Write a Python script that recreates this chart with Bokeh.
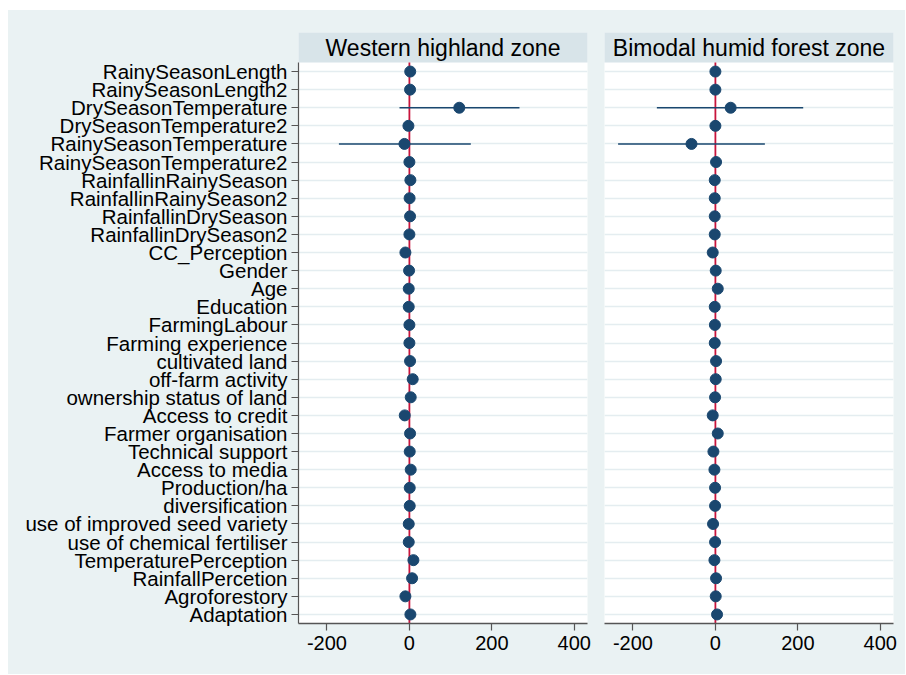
from bokeh.plotting import figure
from bokeh.layouts import row, column
from bokeh.models import Range1d, FixedTicker, Spacer
from bokeh.embed import file_html
from bokeh.resources import INLINE
from bokeh.core.properties import value

labels = [
    "RainySeasonLength", "RainySeasonLength2", "DrySeasonTemperature",
    "DrySeasonTemperature2", "RainySeasonTemperature", "RainySeasonTemperature2",
    "RainfallinRainySeason", "RainfallinRainySeason2", "RainfallinDrySeason",
    "RainfallinDrySeason2", "CC_Perception", "Gender", "Age", "Education",
    "FarmingLabour", "Farming experience", "cultivated land", "off-farm activity",
    "ownership status of land", "Access to credit", "Farmer organisation",
    "Technical support", "Access to media", "Production/ha", "diversification",
    "use of improved seed variety", "use of chemical fertiliser",
    "TemperaturePerception", "RainfallPercetion", "Agroforestory", "Adaptation",
]

zones = ["Western highland zone", "Bimodal humid forest zone"]

# Western highland zone
w_est = [2, 1.6, 121, -2.4, -12, 0, 2.4, 0.5, 1.6, 0, -9.7, -0.8, -1.6, -1.6, 0,
         0, 1.6, 8, 3.2, -11.3, 1.6, 0.8, 3.2, 0.8, 0.8, -1.6, -1.6, 9.7, 6.5, -9.7, 2.4]
w_lo = [-2, -2.4, -24, -6.4, -171, -4, -1.6, -3.5, -2.4, -4, -13.7, -4.8, -5.6, -5.6, -4,
        -4, -2.4, 4, -0.8, -15.3, -2.4, -3.2, -0.8, -3.2, -3.2, -5.6, -5.6, 5.7, 2.5, -13.7, -1.6]
w_hi = [6, 5.6, 267, 1.6, 149, 4, 6.4, 4.5, 5.6, 4, -5.7, 3.2, 2.4, 2.4, 4,
        4, 5.6, 12, 7.2, -7.3, 5.6, 4.8, 7.2, 4.8, 4.8, 2.4, 2.4, 13.7, 10.5, -5.7, 6.4]

# Bimodal humid forest zone
b_est = [0, 0, 37, 0, -58, 1.6, -1.6, -1.6, -1.6, -1.6, -6.5, 0.8, 5.7, -1.6, -1.2,
         -1.6, 1.6, 0.8, -0.8, -6.5, 5.7, -4.8, -2.4, -0.8, -0.8, -5.7, -0.8, -2.4, 1.6, 0.8, 4]
b_lo = [-4, -4, -142, -4, -236, -2.4, -5.6, -5.6, -5.6, -5.6, -10.5, -3.2, 1.7, -5.6, -5.2,
        -5.6, -2.4, -3.2, -4.8, -10.5, 1.7, -8.8, -6.4, -4.8, -4.8, -9.7, -4.8, -6.4, -2.4, -3.2, 0]
b_hi = [4, 4, 213, 4, 120, 5.6, 2.4, 2.4, 2.4, 2.4, -2.5, 4.8, 9.7, 2.4, 2.8,
        2.4, 5.6, 4.8, 3.2, -2.5, 9.7, -0.8, 1.6, 3.2, 3.2, -1.7, 3.2, 1.6, 5.6, 4.8, 8]

x_ticks = [-200, 0, 200, 400]
x_tick_labels = ["-200", "0", "200", "400"]
X_START, X_END = -269, 432

BG = "#eaf2f3"
HEAD = "#d8e4e9"
NAVY = "#1a476f"
RED = "#c8143c"
GRID = "#e4edf0"
AXIS = "#555555"
FONT = "Liberation Sans"

H = 664
BT = 22
FRAME_H = 591
BB = H - BT - FRAME_H
HEADER_PX = 30
n = len(labels)
px_per_unit = (FRAME_H - HEADER_PX) / n
header_units = HEADER_PX / px_per_unit
ys = list(range(1, n + 1))


def make_panel(title, est, lo, hi, show_labels, width, bl, br):
    p = figure(width=width, height=H,
               x_range=Range1d(X_START, X_END),
               y_range=Range1d(n + 0.5, 0.5 - header_units),
               output_backend="svg", toolbar_location=None,
               min_border_left=bl, min_border_right=br,
               min_border_top=BT, min_border_bottom=BB,
               background_fill_color="white", border_fill_color=BG,
               outline_line_color=None, styles={"background-color": BG})
    # x axis
    p.xaxis.ticker = FixedTicker(ticks=x_ticks)
    p.xaxis.major_label_overrides = {t: s for t, s in zip(x_ticks, x_tick_labels)}
    p.xaxis.major_label_text_font = FONT
    p.xaxis.major_label_text_font_size = "20px"
    p.xaxis.major_label_text_color = "black"
    p.xaxis.axis_line_color = AXIS
    p.xaxis.axis_line_width = 1.4
    p.xaxis.major_tick_line_color = AXIS
    p.xaxis.major_tick_line_width = 1.2
    p.xaxis.major_tick_out = 7
    p.xaxis.major_tick_in = 0
    p.xaxis.minor_tick_line_color = None
    p.xaxis.major_label_standoff = 5
    p.xgrid.visible = False
    # y axis
    p.yaxis.ticker = FixedTicker(ticks=ys)
    p.ygrid.ticker = FixedTicker(ticks=ys)
    p.ygrid.grid_line_color = GRID
    p.ygrid.grid_line_width = 1.3
    if show_labels:
        p.yaxis.major_label_overrides = {i: lab for i, lab in zip(ys, labels)}
        p.yaxis.major_label_text_font = FONT
        p.yaxis.major_label_text_font_size = "20.5px"
        p.yaxis.major_label_text_color = "black"
        p.yaxis.axis_line_color = AXIS
        p.yaxis.axis_line_width = 1.2
        p.yaxis.major_tick_line_color = AXIS
        p.yaxis.major_tick_line_width = 1.2
        p.yaxis.major_tick_out = 7
        p.yaxis.major_tick_in = 0
        p.yaxis.minor_tick_line_color = None
        p.yaxis.major_label_standoff = 4
        p.yaxis.bounds = (0.5, n + 0.5)
    else:
        p.yaxis.visible = False

    # header band
    p.quad(left=[X_START - 500], right=[X_END + 500], top=[0.5 - header_units - 5],
           bottom=[0.5], fill_color=HEAD, line_color=None)
    p.text(x=[(X_START + X_END) / 2], y=[0.5 - header_units / 2], text=[title],
           text_align="center", text_baseline="middle",
           text_font=value(FONT), text_font_size="23px", text_color="black")

    # reference line at zero
    p.segment(x0=[0], y0=[0.5], x1=[0], y1=[n + 0.5], line_color=RED, line_width=1.8)
    # confidence intervals and estimates
    p.segment(x0=lo, y0=ys, x1=hi, y1=ys, line_color=NAVY, line_width=1.6)
    p.scatter(x=est, y=ys, size=11, fill_color=NAVY, line_color=NAVY)
    return p


p1 = make_panel(zones[0], w_est, w_lo, w_hi, True, 290 + 289 + 8, 290, 8)
p2 = make_panel(zones[1], b_est, b_lo, b_hi, False, 9 + 289 + 12, 9, 12)

panels = row(p1, p2, styles={"background-color": BG})
layout = column(Spacer(height=10), row(Spacer(width=8), panels))
open("out.html", "w").write(file_html(layout, INLINE))
